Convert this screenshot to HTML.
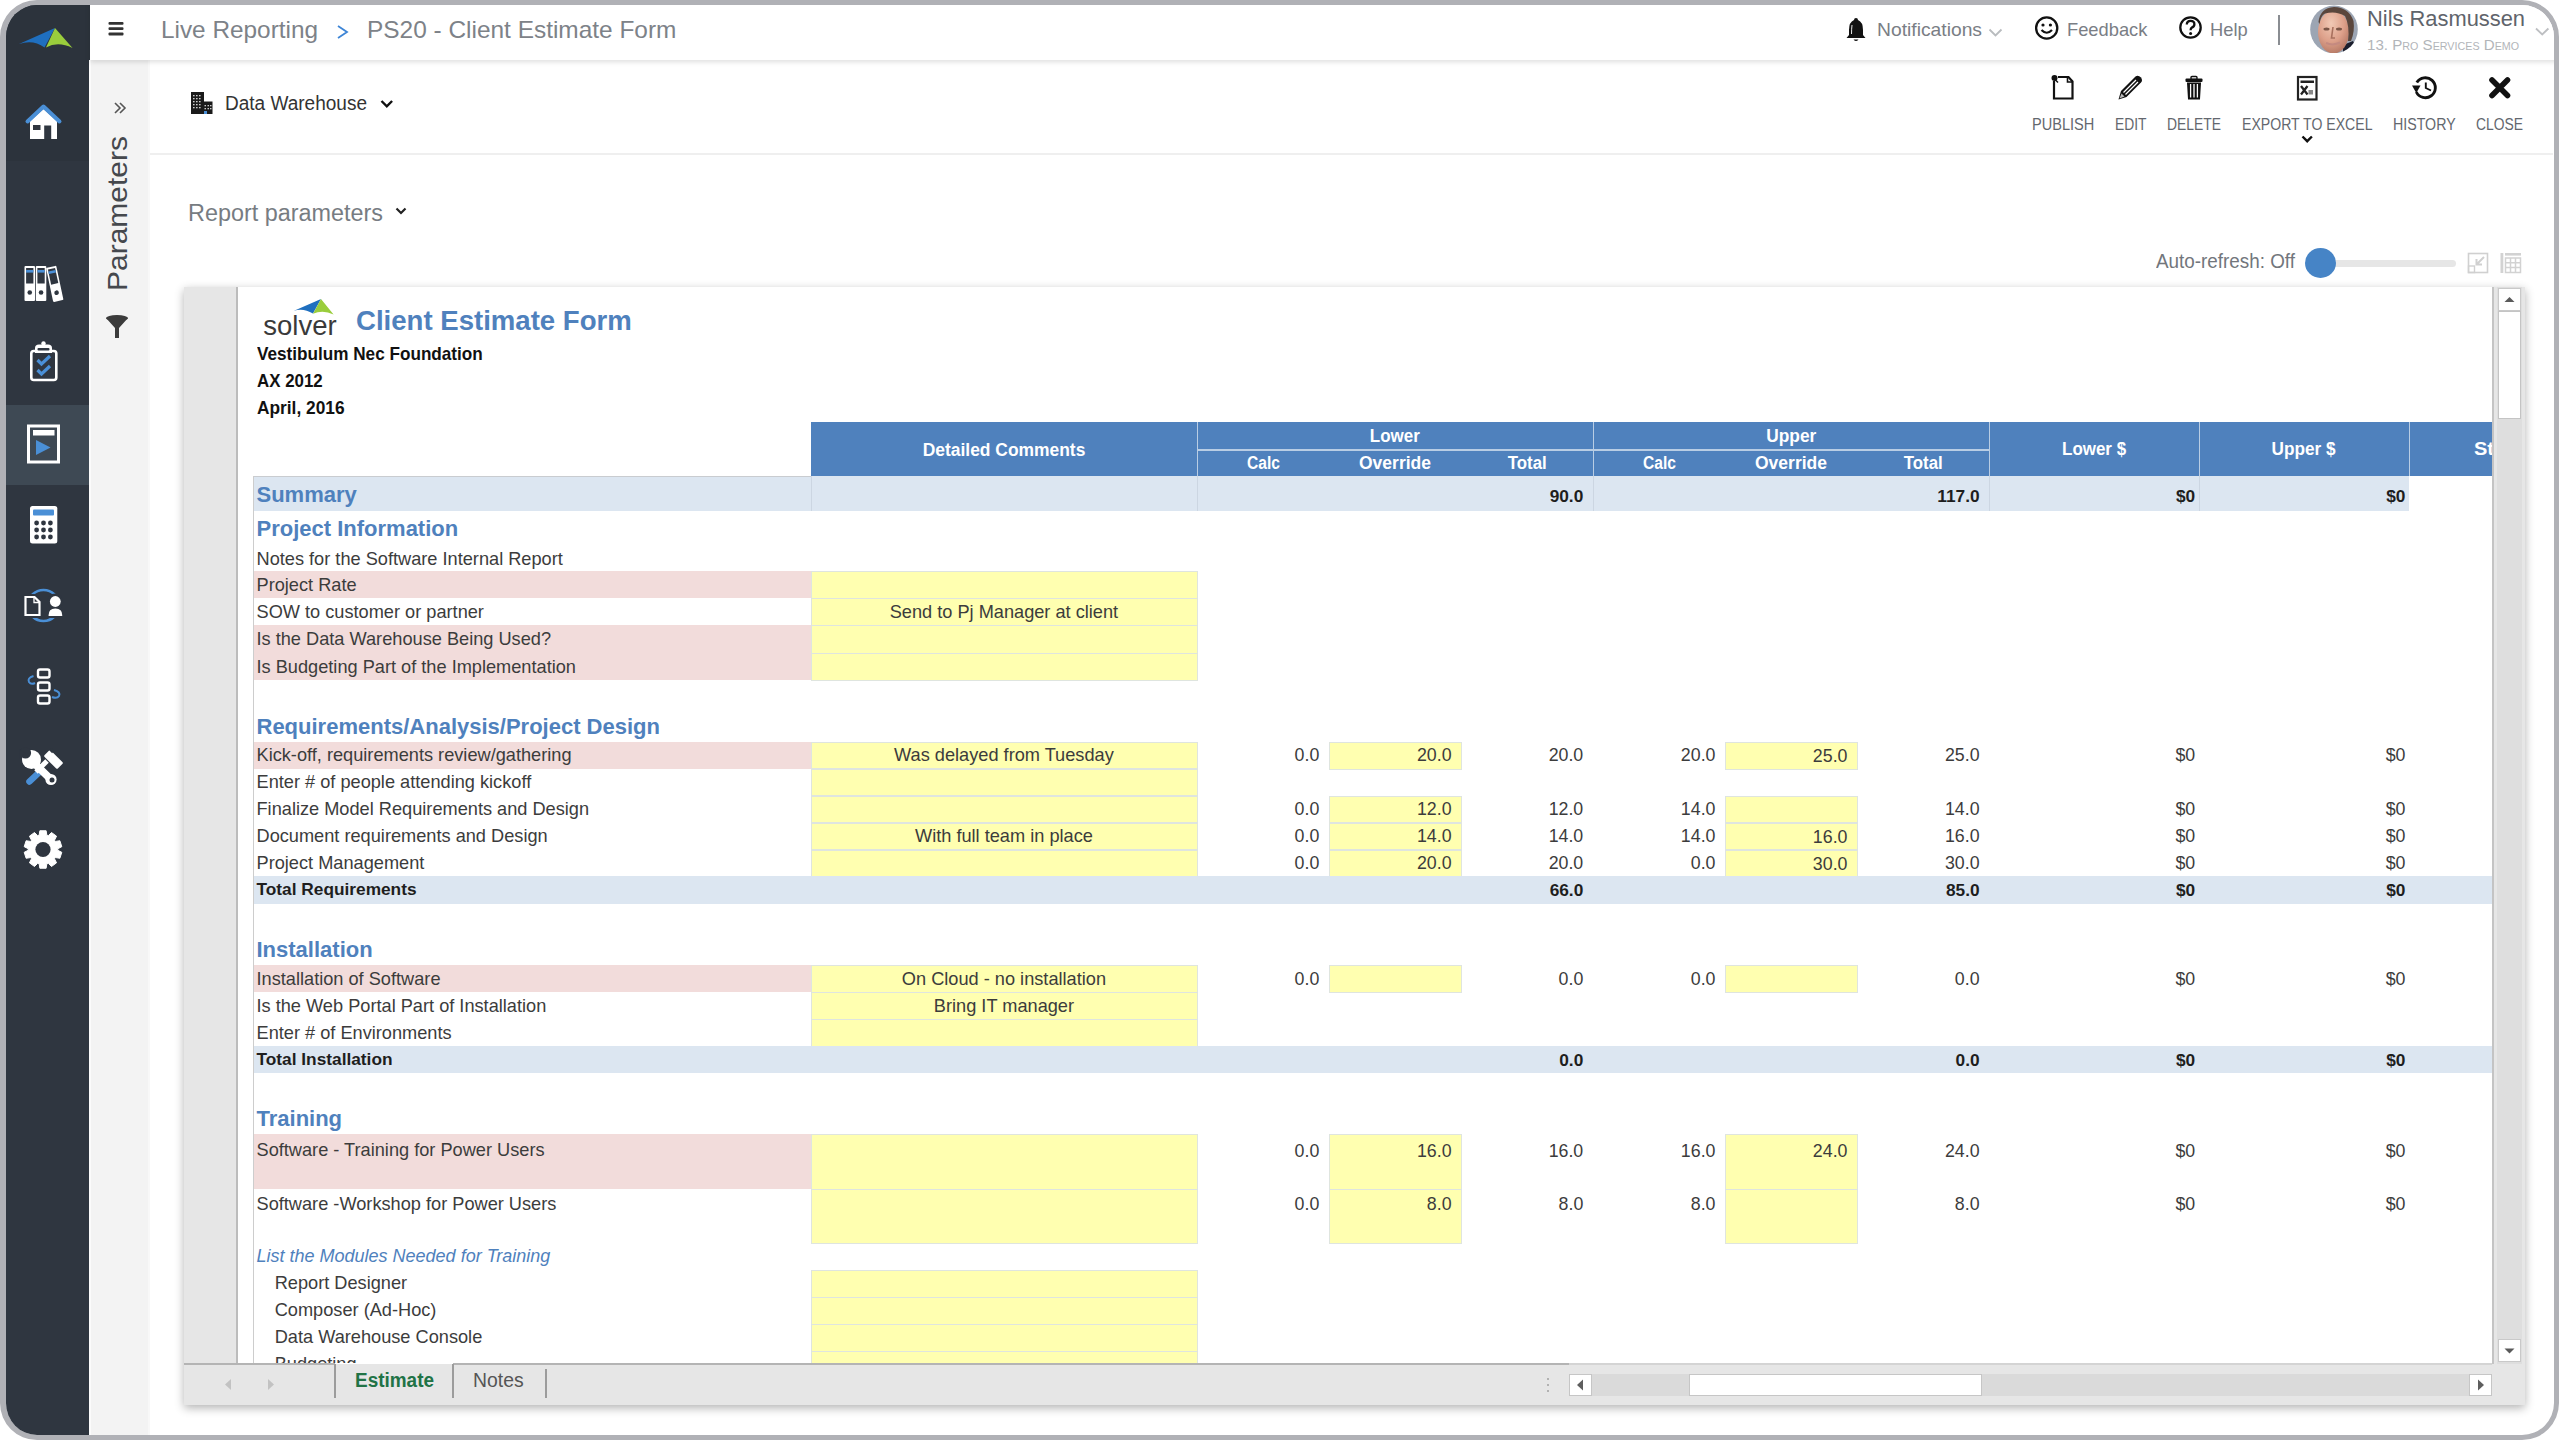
<!DOCTYPE html>
<html><head><meta charset="utf-8"><title>PS20 - Client Estimate Form</title>
<style>
html,body{margin:0;padding:0;background:#fff;width:2560px;height:1441px;overflow:hidden;}
body{font-family:"Liberation Sans",sans-serif;}
#frame{position:absolute;left:0;top:0;width:2559px;height:1440px;box-sizing:border-box;
 border-style:solid;border-color:#b0b1b6;border-width:5px 5px 5px 6px;border-radius:37px;overflow:hidden;background:#fff;}
#pg{position:absolute;left:-6px;top:-5px;width:2560px;height:1441px;}
.t{position:absolute;white-space:nowrap;}
.r{position:absolute;display:block;}
</style></head><body>
<div id="frame"><div id="pg">
<div class="r" style="left:0px;top:0px;width:90px;height:1441px;background:#2f3640;"></div>
<div class="r" style="left:0px;top:0px;width:90px;height:161px;background:#2c333c;"></div>
<div class="r" style="left:0px;top:405px;width:90px;height:80px;background:#3e4954;"></div>
<div class="r" style="left:89px;top:60px;width:2px;height:1381px;background:#fbfbfb;"></div>
<svg class="r" style="left:0px;top:0px" width="90" height="60" viewBox="0 0 90 60"><path d="M19 44 Q33 39 44.5 47.5 L55 28 Z" fill="#1f6fbf"/><path d="M55 28 L72.5 48 Q58 41 46 47.5 Z" fill="#9acd3c"/></svg>
<svg class="r" style="left:0px;top:95px" width="90" height="50" viewBox="0 0 90 50"><path d="M43.5 14 L30 26 L30 44 L57 44 L57 26 Z" fill="#fff"/><path d="M27.5 26.5 L43.5 11.5 L59.5 26.5" fill="none" stroke="#4a8fd6" stroke-width="4" stroke-linejoin="round" stroke-linecap="round"/><rect x="33" y="30" width="7.5" height="5" fill="#2f3640"/><rect x="44.2" y="30.5" width="7" height="13.5" fill="#2f3640"/></svg>
<svg class="r" style="left:0px;top:260px" width="90" height="45" viewBox="0 0 90 45"><rect x="24.5" y="6" width="10.5" height="35" rx="1" fill="#fff"/><rect x="26.1" y="8" width="7.3" height="15.5" fill="#2f3640"/><rect x="26.1" y="10" width="7.3" height="2.6" fill="#4a8fd6"/><circle cx="29.75" cy="32.5" r="2.3" fill="#2f3640"/><rect x="35.8" y="6" width="10.5" height="35" rx="1" fill="#fff"/><rect x="37.4" y="8" width="7.3" height="15.5" fill="#2f3640"/><rect x="37.4" y="10" width="7.3" height="2.6" fill="#4a8fd6"/><circle cx="41.05" cy="32.5" r="2.3" fill="#2f3640"/><g transform="rotate(-12 58.3 40.5)"><rect x="53" y="6" width="10.5" height="35" rx="1" fill="#fff"/><rect x="54.6" y="8" width="7.3" height="15.5" fill="#2f3640"/><rect x="54.6" y="10" width="7.3" height="2.6" fill="#4a8fd6"/><circle cx="58.25" cy="32.5" r="2.3" fill="#2f3640"/></g></svg>
<svg class="r" style="left:0px;top:338px" width="90" height="50" viewBox="0 0 90 50"><rect x="31.3" y="13" width="25" height="29" rx="2.5" fill="none" stroke="#fff" stroke-width="2.6"/><path d="M35 15 L35 10 Q35 6.5 39 6.5 L48 6.5 Q52 6.5 52 10 L52 15 Z" fill="#fff"/><rect x="37.5" y="10" width="12" height="2.5" rx="1" fill="#2f3640"/><circle cx="43.5" cy="5.5" r="2.2" fill="#fff"/><path d="M37.5 22 L41.5 26 L50 18" fill="none" stroke="#4a8fd6" stroke-width="3.2"/><path d="M37.5 32 L41.5 36 L50 28" fill="none" stroke="#4a8fd6" stroke-width="3.2"/></svg>
<svg class="r" style="left:0px;top:420px" width="90" height="50" viewBox="0 0 90 50"><rect x="28.5" y="6" width="30" height="36" fill="none" stroke="#fff" stroke-width="3"/><rect x="33" y="10" width="21.5" height="5.5" fill="#fff"/><path d="M36 20 L50.5 27.5 L36 35 Z" fill="#4a8fd6"/></svg>
<svg class="r" style="left:0px;top:500px" width="90" height="50" viewBox="0 0 90 50"><rect x="30" y="6" width="27.3" height="37.5" rx="2.5" fill="#fff"/><rect x="33" y="9.4" width="21" height="6.2" rx="1" fill="#4a8fd6"/><circle cx="36.6" cy="23" r="2.4" fill="#2f3640"/><circle cx="36.6" cy="30" r="2.4" fill="#2f3640"/><circle cx="36.6" cy="37" r="2.4" fill="#2f3640"/><circle cx="43.5" cy="23" r="2.4" fill="#2f3640"/><circle cx="43.5" cy="30" r="2.4" fill="#2f3640"/><circle cx="43.5" cy="37" r="2.4" fill="#2f3640"/><circle cx="50.4" cy="23" r="2.4" fill="#2f3640"/><circle cx="50.4" cy="30" r="2.4" fill="#2f3640"/><circle cx="50.4" cy="37" r="2.4" fill="#2f3640"/></svg>
<svg class="r" style="left:0px;top:585px" width="90" height="40" viewBox="0 0 90 40"><circle cx="43.5" cy="20.5" r="15.5" fill="none" stroke="#4a8fd6" stroke-width="2.6"/><path d="M25.5 12 L34.5 12 L39.5 17 L39.5 30 L25.5 30 Z" fill="#2f3640" stroke="#2f3640" stroke-width="6"/><path d="M25.5 12 L34.5 12 L39.5 17 L39.5 30 L25.5 30 Z" fill="#2f3640" stroke="#fff" stroke-width="2.2"/><path d="M34 12.5 L34 17.5 L39 17.5" fill="none" stroke="#fff" stroke-width="1.3"/><circle cx="55.3" cy="16.5" r="8" fill="#2f3640"/><rect x="45" y="23" width="20" height="10" fill="#2f3640"/><circle cx="55.3" cy="16.5" r="5.4" fill="#fff"/><path d="M48.5 30.5 Q48.5 23.5 55.3 23.5 Q62.3 23.5 62.3 30.5 Q62.3 31 61 31 L49.8 31 Q48.5 31 48.5 30.5 Z" fill="#fff"/></svg>
<svg class="r" style="left:0px;top:662px" width="90" height="50" viewBox="0 0 90 50"><rect x="38" y="7.5" width="11.5" height="8" rx="2" fill="none" stroke="#fff" stroke-width="2.4"/><rect x="38" y="20.5" width="11.5" height="8" rx="2" fill="none" stroke="#fff" stroke-width="2.4"/><rect x="38" y="33.5" width="11.5" height="8" rx="2" fill="none" stroke="#fff" stroke-width="2.4"/><path d="M33.5 14 Q27 16 29 20 Q31 23 35 21" fill="none" stroke="#4a8fd6" stroke-width="2"/><path d="M54 28 Q61 30 59 34 Q57 37 52 35" fill="none" stroke="#4a8fd6" stroke-width="2"/></svg>
<svg class="r" style="left:0px;top:745px" width="90" height="45" viewBox="0 0 90 45"><path d="M29.5 36.5 L38.5 28" stroke="#4a8fd6" stroke-width="6.5" stroke-linecap="round"/><path d="M36 27 L47 16" stroke="#fff" stroke-width="5"/><g transform="rotate(45 53.5 14.5)"><rect x="44" y="10" width="19" height="9" rx="1.5" fill="#fff"/><rect x="44" y="8" width="4" height="3" fill="#2f3640"/></g><path d="M33 17 L50.5 34" stroke="#fff" stroke-width="7.5" stroke-linecap="round"/><circle cx="31.5" cy="14.5" r="9.5" fill="#fff"/><circle cx="25.5" cy="8" r="5.6" fill="#2f3640"/><path d="M25.5 8 L20 14 L19 4 Z" fill="#2f3640"/><circle cx="51" cy="34.5" r="5.6" fill="#fff"/><circle cx="52" cy="35" r="2.5" fill="#2f3640"/></svg>
<svg class="r" style="left:0px;top:825px" width="90" height="50" viewBox="0 0 90 50"><path d="M39.17 10.20 L39.86 5.76 L46.14 5.76 L46.83 10.20 L48.30 10.68 L51.48 7.50 L56.55 11.18 L54.50 15.19 L55.41 16.44 L59.85 15.73 L61.79 21.69 L57.78 23.73 L57.78 25.27 L61.79 27.31 L59.85 33.27 L55.41 32.56 L54.50 33.81 L56.55 37.82 L51.48 41.50 L48.30 38.32 L46.83 38.80 L46.14 43.24 L39.86 43.24 L39.17 38.80 L37.70 38.32 L34.52 41.50 L29.45 37.82 L31.50 33.81 L30.59 32.56 L26.15 33.27 L24.21 27.31 L28.22 25.27 L28.22 23.73 L24.21 21.69 L26.15 15.73 L30.59 16.44 L31.50 15.19 L29.45 11.18 L34.52 7.50 L37.70 10.68 Z" fill="#fff" stroke="#fff" stroke-width="1" stroke-linejoin="round"/><circle cx="43" cy="24.5" r="7.6" fill="#2f3640"/></svg>
<div class="r" style="left:91px;top:60px;width:59px;height:1381px;background:#f3f3f3;"></div>
<div class="r" style="left:148px;top:60px;width:2px;height:1381px;background:#f8f8f8;"></div>
<div class="t" style="left:104.30px;top:291px;font-size:28px;line-height:28px;color:#45484d;transform-origin:0 0;transform:rotate(-90deg) scaleX(1.0710);">Parameters</div>
<svg class="r" style="left:105px;top:101px" width="30" height="20" viewBox="0 0 30 20"><path d="M10 2 L15 7 L10 12 M15 2 L20 7 L15 12" fill="none" stroke="#555" stroke-width="1.6"/></svg>
<svg class="r" style="left:100px;top:310px" width="34" height="34" viewBox="0 0 34 34"><ellipse cx="17" cy="8" rx="11" ry="3" fill="#3b3b3b"/><path d="M6 8 L15 18 L15 28 L19 28 L19 18 L28 8 Z" fill="#3b3b3b"/></svg>
<div class="r" style="left:90px;top:0px;width:2470px;height:60px;background:#fff;box-shadow:0 2px 5px rgba(0,0,0,0.13);z-index:2;"></div>
<div class="r" style="left:0;top:0;width:2560px;height:60px;z-index:3;">
<svg class="r" style="left:100px;top:15px" width="30" height="26" viewBox="0 0 30 26"><rect x="8.5" y="7" width="15" height="2.8" rx="1" fill="#333"/><rect x="8.5" y="12.2" width="15" height="2.8" rx="1" fill="#333"/><rect x="8.5" y="17.6" width="15" height="2.8" rx="1" fill="#333"/></svg>
<div class="t" style="left:160.50px;top:18.38px;font-size:24px;line-height:24px;color:#7d8288;transform:scaleX(1.0145);transform-origin:left 50%;">Live Reporting</div>
<svg class="r" style="left:330px;top:20px" width="24" height="24" viewBox="0 0 24 24"><path d="M8 6 L17 12 L8 18" fill="none" stroke="#3d85d6" stroke-width="1.8"/></svg>
<div class="t" style="left:367.00px;top:18.38px;font-size:24px;line-height:24px;color:#7d8288;transform:scaleX(1.0174);transform-origin:left 50%;">PS20 - Client Estimate Form</div>
<svg class="r" style="left:1843px;top:14px" width="26" height="28" viewBox="0 0 26 28"><path d="M13 4 Q11 4 11 6 Q6 8 6 16 L6 21 L3.5 24 L22.5 24 L20 21 L20 16 Q20 8 15 6 Q15 4 13 4 Z" fill="#111"/><path d="M10.5 25.5 Q13 28.5 15.5 25.5 Z" fill="#111"/><path d="M9 11 Q8.5 15 8.5 20" stroke="#fff" stroke-width="0.9" fill="none"/></svg>
<div class="t" style="left:1876.50px;top:19.72px;font-size:19px;line-height:19px;color:#7a7e85;transform:scaleX(1.0146);transform-origin:left 50%;">Notifications</div>
<svg class="r" style="left:1986px;top:26px" width="20" height="14" viewBox="0 0 20 14"><path d="M3.5 3.5 L9.5 9.5 L15.5 3.5" fill="none" stroke="#b9bcbf" stroke-width="1.8"/></svg>
<svg class="r" style="left:2033px;top:14px" width="28" height="28" viewBox="0 0 28 28"><circle cx="13.7" cy="14" r="10.6" fill="none" stroke="#111" stroke-width="2.3"/><circle cx="10" cy="11" r="1.6" fill="#111"/><circle cx="17.4" cy="11" r="1.6" fill="#111"/><path d="M8.5 16 Q13.7 21.5 19 16" fill="none" stroke="#111" stroke-width="2.2"/></svg>
<div class="t" style="left:2067.00px;top:19.72px;font-size:19px;line-height:19px;color:#7a7e85;transform:scaleX(0.9635);transform-origin:left 50%;">Feedback</div>
<svg class="r" style="left:2177px;top:14px" width="28" height="28" viewBox="0 0 28 28"><circle cx="13.5" cy="13.5" r="10.2" fill="none" stroke="#111" stroke-width="2.3"/><path d="M9.8 10.5 Q9.8 6.8 13.6 6.8 Q17.4 6.8 17.4 10.2 Q17.4 12.5 14.8 13.6 Q13.6 14.2 13.6 16.3" fill="none" stroke="#111" stroke-width="2.3"/><circle cx="13.6" cy="19.6" r="1.5" fill="#111"/></svg>
<div class="t" style="left:2210.00px;top:19.72px;font-size:19px;line-height:19px;color:#7a7e85;transform:scaleX(0.9647);transform-origin:left 50%;">Help</div>
<div class="r" style="left:2278px;top:15px;width:2px;height:30px;background:#8a8d92;"></div>
<svg class="r" style="left:2309px;top:5px" width="50" height="48" viewBox="0 0 50 48"><defs><clipPath id="av"><circle cx="25" cy="24.4" r="23.8"/></clipPath><radialGradient id="fg" cx="0.42" cy="0.3" r="0.7"><stop offset="0" stop-color="#f1c9b5"/><stop offset="0.6" stop-color="#dda08a"/><stop offset="1" stop-color="#b97c68"/></radialGradient></defs><g clip-path="url(#av)"><rect x="0" y="0" width="50" height="48" fill="#9ca5b3"/><path d="M34 40 L44 36 L50 48 L34 48 Z" fill="#1b1e2c"/><ellipse cx="24.5" cy="27" rx="15.5" ry="21.5" fill="url(#fg)"/><path d="M9.5 17 Q11 3 25 2 Q40 2.5 44.5 16 Q46 26 42 36 L39 36 Q41 21 36 11 Q27 5.5 16 8.5 Q11.5 11 10.5 19 Z" fill="#5a463c"/><ellipse cx="17.5" cy="24" rx="3" ry="1.5" fill="#7a5546"/><ellipse cx="30" cy="24" rx="3" ry="1.5" fill="#7a5546"/><path d="M24 22 L22.5 33 L26 33" fill="none" stroke="#a8705e" stroke-width="1.6"/><path d="M17 38 Q24 41 31 37.5" fill="none" stroke="#c48a80" stroke-width="2"/></g></svg>
<div class="t" style="left:2366.60px;top:8.38px;font-size:22px;line-height:22px;color:#60646b;transform:scaleX(0.9941);transform-origin:left 50%;">Nils Rasmussen</div>
<div class="t" style="left:2366.5px;top:35.5px;font-size:15.5px;line-height:17px;color:#b2b5b9;font-variant:small-caps;transform:scaleX(0.975);transform-origin:left 50%;">13. Pro Services Demo</div>
<svg class="r" style="left:2530px;top:24px" width="22" height="16" viewBox="0 0 22 16"><path d="M6 4.5 L12.2 10.5 L18.4 4.5" fill="none" stroke="#bdbfc2" stroke-width="1.8"/></svg>
</div>
<svg class="r" style="left:188px;top:89px" width="28" height="28" viewBox="0 0 28 28"><rect x="3" y="3" width="13" height="22" fill="#1a1a1a"/><rect x="12" y="12.5" width="12.5" height="12.5" fill="#1a1a1a"/><rect x="5" y="6" width="1.6" height="1.3" fill="#ccc"/><rect x="5" y="9" width="1.6" height="1.3" fill="#ccc"/><rect x="5" y="12" width="1.6" height="1.3" fill="#ccc"/><rect x="5" y="15" width="1.6" height="1.3" fill="#ccc"/><rect x="5" y="18" width="1.6" height="1.3" fill="#ccc"/><rect x="8" y="6" width="1.6" height="1.3" fill="#ccc"/><rect x="8" y="9" width="1.6" height="1.3" fill="#ccc"/><rect x="8" y="12" width="1.6" height="1.3" fill="#ccc"/><rect x="8" y="15" width="1.6" height="1.3" fill="#ccc"/><rect x="8" y="18" width="1.6" height="1.3" fill="#ccc"/><rect x="11" y="6" width="1.6" height="1.3" fill="#ccc"/><rect x="11" y="9" width="1.6" height="1.3" fill="#ccc"/><rect x="11" y="12" width="1.6" height="1.3" fill="#ccc"/><rect x="11" y="15" width="1.6" height="1.3" fill="#ccc"/><rect x="11" y="18" width="1.6" height="1.3" fill="#ccc"/><rect x="16.5" y="16" width="1.5" height="1.3" fill="#ccc"/><rect x="16.5" y="19" width="1.5" height="1.3" fill="#ccc"/><rect x="19.5" y="16" width="1.5" height="1.3" fill="#ccc"/><rect x="19.5" y="19" width="1.5" height="1.3" fill="#ccc"/><rect x="22" y="16" width="1.5" height="1.3" fill="#ccc"/><rect x="22" y="19" width="1.5" height="1.3" fill="#ccc"/><rect x="16" y="22" width="3" height="3" fill="#4a8fd6"/></svg>
<div class="t" style="left:225.00px;top:94.09px;font-size:19.5px;line-height:19.5px;color:#333;transform:scaleX(0.9752);transform-origin:left 50%;">Data Warehouse</div>
<svg class="r" style="left:378px;top:97px" width="18" height="14" viewBox="0 0 18 14"><path d="M3.5 4 L8.8 9.3 L14.1 4" fill="none" stroke="#111" stroke-width="2.4"/></svg>
<div class="r" style="left:150px;top:153px;width:2403px;height:2px;background:#efefef;"></div>
<div class="t" style="left:2031.70px;top:116.13px;font-size:16.5px;line-height:16.5px;color:#63676e;transform:scaleX(0.8823);transform-origin:left 50%;">PUBLISH</div>
<div class="t" style="left:2115.00px;top:116.13px;font-size:16.5px;line-height:16.5px;color:#63676e;transform:scaleX(0.8381);transform-origin:left 50%;">EDIT</div>
<div class="t" style="left:2167.00px;top:116.13px;font-size:16.5px;line-height:16.5px;color:#63676e;transform:scaleX(0.8413);transform-origin:left 50%;">DELETE</div>
<div class="t" style="left:2242.00px;top:116.13px;font-size:16.5px;line-height:16.5px;color:#63676e;transform:scaleX(0.8538);transform-origin:left 50%;">EXPORT TO EXCEL</div>
<div class="t" style="left:2393.00px;top:116.13px;font-size:16.5px;line-height:16.5px;color:#63676e;transform:scaleX(0.8605);transform-origin:left 50%;">HISTORY</div>
<div class="t" style="left:2476.00px;top:116.13px;font-size:16.5px;line-height:16.5px;color:#63676e;transform:scaleX(0.8402);transform-origin:left 50%;">CLOSE</div>
<svg class="r" style="left:2048px;top:72px" width="30" height="30" viewBox="0 0 30 30"><path d="M6 9 L6 26.5 L24.5 26.5 L24.5 9.5 L20.5 5 L10 5" fill="none" stroke="#111" stroke-width="2.2"/><path d="M19.5 5 L19.5 10 L24.5 10" fill="none" stroke="#111" stroke-width="1.6"/><circle cx="6.5" cy="6" r="3" fill="#111"/><path d="M5.5 6 L10 10.5" stroke="#111" stroke-width="1.4"/></svg>
<svg class="r" style="left:2115px;top:73px" width="30" height="30" viewBox="0 0 30 30"><path d="M3.5 26.5 L6 18 L20.5 3.5 Q23 1.5 26 4.5 Q28 7.5 26 9.5 L11.5 24 Z" fill="#111"/><path d="M8.5 19.5 L21 7 M10.5 21.5 L23 9" stroke="#fff" stroke-width="1.3"/><path d="M4.5 25.5 L6.5 20.5 L9.5 23.5 Z" fill="#bbb"/></svg>
<svg class="r" style="left:2182px;top:74px" width="24" height="28" viewBox="0 0 24 28"><rect x="3.5" y="4.5" width="17" height="3.4" rx="1" fill="#111"/><rect x="9" y="2.5" width="6" height="3" rx="1" fill="none" stroke="#111" stroke-width="1.4"/><path d="M5 8.5 L6 25.5 L18 25.5 L19 8.5 Z" fill="#111"/><path d="M8.6 10 L8.6 23.5 M12 10 L12 23.5 M15.4 10 L15.4 23.5" stroke="#fff" stroke-width="1.3"/></svg>
<svg class="r" style="left:2294px;top:73px" width="26" height="30" viewBox="0 0 26 30"><rect x="4" y="4" width="18.5" height="22.5" fill="none" stroke="#222" stroke-width="2.2"/><rect x="6.5" y="7.5" width="13.5" height="2.5" fill="#222"/><path d="M7 13 L13.5 21.5 M13.5 13 L7 21.5" stroke="#222" stroke-width="2.3"/><rect x="14.5" y="17" width="4.5" height="4.5" fill="#888"/></svg>
<svg class="r" style="left:2408px;top:73px" width="32" height="30" viewBox="0 0 32 30"><path d="M8.3 19 A10 10 0 1 0 8.8 9.5" fill="none" stroke="#111" stroke-width="2.9"/><path d="M4 12.5 L12.5 12.5 L8.3 20 Z" fill="#111"/><path d="M17.8 9.5 L17.8 15 L23 17.5" fill="none" stroke="#111" stroke-width="1.9"/></svg>
<svg class="r" style="left:2486px;top:74px" width="28" height="28" viewBox="0 0 28 28"><path d="M6 6 L21.5 21.5 M21.5 6 L6 21.5" stroke="#111" stroke-width="5.6" stroke-linecap="round"/></svg>
<svg class="r" style="left:2299px;top:133px" width="18" height="14" viewBox="0 0 18 14"><path d="M3.5 3.5 L8.2 8.2 L12.9 3.5" fill="none" stroke="#111" stroke-width="2.4"/></svg>
<div class="t" style="left:187.50px;top:201.53px;font-size:23px;line-height:23px;color:#777c82;transform:scaleX(1.0169);transform-origin:left 50%;">Report parameters</div>
<svg class="r" style="left:393px;top:204px" width="16" height="14" viewBox="0 0 16 14"><path d="M3.5 4.5 L8 9 L12.5 4.5" fill="none" stroke="#222" stroke-width="2.2"/></svg>
<div class="t" style="left:2156.40px;top:252.49px;font-size:19.5px;line-height:19.5px;color:#72767c;transform:scaleX(0.9667);transform-origin:left 50%;">Auto-refresh: Off</div>
<div class="r" style="left:2320px;top:260px;width:136px;height:7px;background:#e6e6e6;border-radius:3.5px;"></div>
<div class="r" style="left:2305px;top:248px;width:31px;height:30px;background:#4684c6;border-radius:50%;"></div>
<svg class="r" style="left:2464px;top:250px" width="28" height="26" viewBox="0 0 28 26"><rect x="4.5" y="3.5" width="19" height="19" fill="none" stroke="#d0d0d0" stroke-width="1.6"/><rect x="4.5" y="16" width="6" height="6.5" fill="none" stroke="#d0d0d0" stroke-width="1.4"/><path d="M20 7 L12.5 14.5 M12.5 9 L12.5 14.5 L18 14.5" fill="none" stroke="#d0d0d0" stroke-width="2"/></svg>
<svg class="r" style="left:2496px;top:249px" width="30" height="28" viewBox="0 0 30 28"><rect x="4.5" y="4" width="2.8" height="20" fill="#d2d2d2"/><rect x="9" y="4" width="16" height="2.6" fill="#d2d2d2"/><path d="M9.5 9 L24.5 9 L24.5 23.5 L9.5 23.5 Z M9.5 13.8 L24.5 13.8 M9.5 18.6 L24.5 18.6 M14.5 9 L14.5 23.5 M19.5 9 L19.5 23.5" fill="none" stroke="#d2d2d2" stroke-width="1.5"/></svg>
<div class="r" style="left:184px;top:287px;width:2341px;height:1118px;background:#e6e6e6;box-shadow:0 3px 9px rgba(0,0,0,0.30);"></div>
<div class="r" style="left:236px;top:287px;width:2px;height:1077px;background:#bcbcbc;"></div>
<div class="r" style="left:238px;top:287px;width:2254px;height:1077px;background:#fff;"></div>
<div class="r" style="left:2492px;top:287px;width:2px;height:1077px;background:#c4c4c4;"></div>
<div class="r" style="left:2497px;top:287px;width:25px;height:1077px;background:#dedede;"></div>
<div class="r" style="left:2498px;top:288px;width:23px;height:23px;background:#fff;box-sizing:border-box;border:1px solid #c9c9c9;"></div>
<svg class="r" style="left:2498px;top:288px" width="23" height="23" viewBox="0 0 23 23"><path d="M6.5 14 L11.5 9 L16.5 14 Z" fill="#5a5a5a"/></svg>
<div class="r" style="left:2498px;top:311px;width:23px;height:108px;background:#fff;box-sizing:border-box;border:1px solid #c4c4c4;"></div>
<div class="r" style="left:2498px;top:1339px;width:23px;height:23px;background:#fff;box-sizing:border-box;border:1px solid #c9c9c9;"></div>
<svg class="r" style="left:2498px;top:1339px" width="23" height="23" viewBox="0 0 23 23"><path d="M6.5 9.5 L11.5 14.5 L16.5 9.5 Z" fill="#5a5a5a"/></svg>
<div class="r" style="left:184px;top:1364px;width:2341px;height:41px;background:#e6e6e6;"></div>
<div class="r" style="left:184px;top:1363px;width:151px;height:2px;background:#b4b4b4;"></div>
<div class="r" style="left:453px;top:1363px;width:1116px;height:2px;background:#b4b4b4;"></div>
<div class="r" style="left:1569px;top:1363px;width:923px;height:2px;background:#d4d4d4;"></div>
<svg class="r" style="left:218px;top:1374px" width="62" height="22" viewBox="0 0 62 22"><path d="M13 5 L7 10.5 L13 16 Z" fill="#c2c2c2"/><path d="M50 5 L56 10.5 L50 16 Z" fill="#c2c2c2"/></svg>
<div class="r" style="left:334px;top:1364px;width:2px;height:34px;background:#9c9c9c;"></div>
<div class="r" style="left:452px;top:1364px;width:2px;height:34px;background:#9c9c9c;"></div>
<div class="r" style="left:545px;top:1369px;width:2px;height:29px;background:#9c9c9c;"></div>
<div class="t" style="left:355.30px;top:1370.37px;font-size:20px;line-height:20px;color:#217346;font-weight:bold;transform:scaleX(0.9476);transform-origin:left 50%;">Estimate</div>
<div class="t" style="left:473.40px;top:1370.37px;font-size:20px;line-height:20px;color:#555;transform:scaleX(0.9685);transform-origin:left 50%;">Notes</div>
<div class="r" style="left:1546.5px;top:1377.7px;width:2.7000000000000455px;height:2.599999999999909px;background:#a0a0a0;border-radius:50%;"></div>
<div class="r" style="left:1546.5px;top:1383.7px;width:2.7000000000000455px;height:2.599999999999909px;background:#a0a0a0;border-radius:50%;"></div>
<div class="r" style="left:1546.5px;top:1389.7px;width:2.7000000000000455px;height:2.599999999999909px;background:#a0a0a0;border-radius:50%;"></div>
<div class="r" style="left:1569px;top:1374px;width:923px;height:22px;background:#dadada;"></div>
<div class="r" style="left:1569px;top:1374px;width:23px;height:22px;background:#fff;box-sizing:border-box;border:1px solid #c6c6c6;"></div>
<svg class="r" style="left:1569px;top:1374px" width="23" height="22" viewBox="0 0 23 22"><path d="M14 5.5 L8 11 L14 16.5 Z" fill="#5e5e5e"/></svg>
<div class="r" style="left:1689px;top:1374px;width:293px;height:22px;background:#fff;box-sizing:border-box;border:1px solid #c6c6c6;"></div>
<div class="r" style="left:2469px;top:1374px;width:23px;height:22px;background:#fff;box-sizing:border-box;border:1px solid #c6c6c6;"></div>
<svg class="r" style="left:2469px;top:1374px" width="23" height="22" viewBox="0 0 23 22"><path d="M9 5.5 L15 11 L9 16.5 Z" fill="#5e5e5e"/></svg>
<div class="r" style="left:238px;top:287px;width:2254px;height:1076px;overflow:hidden;"><div class="r" style="left:-238px;top:-287px;width:2560px;height:1441px;">
<svg class="r" style="left:290px;top:296px" width="48" height="20" viewBox="0 0 48 20"><path d="M3.5 15 Q13 11.5 23 17.5 L31 3 Z" fill="#1f6fbf"/><path d="M31 3 L43.6 18.5 Q33 13.5 23 17.8 Z" fill="#9acd3c"/></svg>
<div class="t" style="left:263.30px;top:312.02px;font-size:27.5px;line-height:27.5px;color:#3a3a3a;">solver</div>
<div class="t" style="left:355.50px;top:305.67px;font-size:28.5px;line-height:28.5px;color:#4f81bd;font-weight:bold;transform:scaleX(0.9675);transform-origin:left 50%;">Client Estimate Form</div>
<div class="t" style="left:257.00px;top:345.44px;font-size:18.5px;line-height:18.5px;color:#111;font-weight:bold;transform:scaleX(0.9269);transform-origin:left 50%;">Vestibulum Nec Foundation</div>
<div class="t" style="left:257.00px;top:372.04px;font-size:18.5px;line-height:18.5px;color:#111;font-weight:bold;transform:scaleX(0.9125);transform-origin:left 50%;">AX 2012</div>
<div class="t" style="left:257.00px;top:398.54px;font-size:18.5px;line-height:18.5px;color:#111;font-weight:bold;transform:scaleX(0.9351);transform-origin:left 50%;">April, 2016</div>
<div class="r" style="left:811px;top:422px;width:1681px;height:54px;background:#4f81bd;"></div>
<div class="r" style="left:1196.5px;top:422px;width:1.5px;height:54px;background:#b9cde4;"></div>
<div class="r" style="left:1592.5px;top:422px;width:1.5px;height:54px;background:#b9cde4;"></div>
<div class="r" style="left:1988.5px;top:422px;width:1.5px;height:54px;background:#b9cde4;"></div>
<div class="r" style="left:2198.5px;top:422px;width:1.5px;height:54px;background:#b9cde4;"></div>
<div class="r" style="left:2408.5px;top:422px;width:1.5px;height:54px;background:#b9cde4;"></div>
<div class="r" style="left:1197px;top:449px;width:792px;height:1.5px;background:#b9cde4;"></div>
<div class="r" style="left:253px;top:475.5px;width:558px;height:1.0px;background:#cfcfcf;"></div>
<div class="t" style="left:920.48px;top:440.86px;font-size:18px;line-height:18px;color:#ffffff;font-weight:bold;transform:scaleX(0.9676);transform-origin:center 50%;">Detailed Comments</div>
<div class="t" style="left:1369.23px;top:427.69px;font-size:17.5px;line-height:17.5px;color:#ffffff;font-weight:bold;transform:scaleX(0.9702);transform-origin:center 50%;">Lower</div>
<div class="t" style="left:1765.72px;top:427.69px;font-size:17.5px;line-height:17.5px;color:#ffffff;font-weight:bold;transform:scaleX(0.9889);transform-origin:center 50%;">Upper</div>
<div class="t" style="left:1244.52px;top:455.19px;font-size:17.5px;line-height:17.5px;color:#ffffff;font-weight:bold;transform:scaleX(0.8927);transform-origin:center 50%;">Calc</div>
<div class="t" style="left:1359.01px;top:455.19px;font-size:17.5px;line-height:17.5px;color:#ffffff;font-weight:bold;">Override</div>
<div class="t" style="left:1506.75px;top:455.19px;font-size:17.5px;line-height:17.5px;color:#ffffff;font-weight:bold;transform:scaleX(0.9629);transform-origin:center 50%;">Total</div>
<div class="t" style="left:1640.52px;top:455.19px;font-size:17.5px;line-height:17.5px;color:#ffffff;font-weight:bold;transform:scaleX(0.8927);transform-origin:center 50%;">Calc</div>
<div class="t" style="left:1755.01px;top:455.19px;font-size:17.5px;line-height:17.5px;color:#ffffff;font-weight:bold;">Override</div>
<div class="t" style="left:1902.75px;top:455.19px;font-size:17.5px;line-height:17.5px;color:#ffffff;font-weight:bold;transform:scaleX(0.9629);transform-origin:center 50%;">Total</div>
<div class="t" style="left:2060.94px;top:441.29px;font-size:17.5px;line-height:17.5px;color:#ffffff;font-weight:bold;transform:scaleX(0.9678);transform-origin:center 50%;">Lower $</div>
<div class="t" style="left:2271.42px;top:441.29px;font-size:17.5px;line-height:17.5px;color:#ffffff;font-weight:bold;transform:scaleX(0.9823);transform-origin:center 50%;">Upper $</div>
<div class="t" style="left:2474.00px;top:441.29px;font-size:17.5px;line-height:17.5px;color:#ffffff;font-weight:bold;transform:scaleX(1.1428);transform-origin:left 50%;">St</div>
<div class="r" style="left:253px;top:476px;width:2156px;height:35px;background:#dce6f1;"></div>
<div class="r" style="left:810.5px;top:476px;width:1.0px;height:35px;background:#ccd6e2;"></div>
<div class="r" style="left:1196.5px;top:476px;width:1.0px;height:35px;background:#ccd6e2;"></div>
<div class="r" style="left:1592.5px;top:476px;width:1.0px;height:35px;background:#ccd6e2;"></div>
<div class="r" style="left:1988.5px;top:476px;width:1.0px;height:35px;background:#ccd6e2;"></div>
<div class="r" style="left:2198.5px;top:476px;width:1.0px;height:35px;background:#ccd6e2;"></div>
<div class="r" style="left:253px;top:475.5px;width:558px;height:1.5px;background:#c9ccd0;"></div>
<div class="t" style="left:256.50px;top:483.88px;font-size:22px;line-height:22px;color:#4f81bd;font-weight:bold;">Summary</div>
<div class="t" style="left:1549.63px;top:488.36px;font-size:17.3px;line-height:17.3px;color:#1e1e1e;font-weight:bold;">90.0</div>
<div class="t" style="left:1937.26px;top:488.36px;font-size:17.3px;line-height:17.3px;color:#1e1e1e;font-weight:bold;">117.0</div>
<div class="t" style="left:2175.96px;top:488.36px;font-size:17.3px;line-height:17.3px;color:#1e1e1e;font-weight:bold;">$0</div>
<div class="t" style="left:2386.26px;top:488.36px;font-size:17.3px;line-height:17.3px;color:#1e1e1e;font-weight:bold;">$0</div>
<div class="t" style="left:256.50px;top:518.28px;font-size:22px;line-height:22px;color:#4f81bd;font-weight:bold;">Project Information</div>
<div class="t" style="left:256.50px;top:549.59px;font-size:18.2px;line-height:18.2px;color:#3c3c3c;">Notes for the Software Internal Report</div>
<div class="r" style="left:253px;top:571px;width:558px;height:27px;background:#f2dcdb;"></div>
<div class="r" style="left:253px;top:625px;width:558px;height:28px;background:#f2dcdb;"></div>
<div class="r" style="left:253px;top:653px;width:558px;height:27px;background:#f2dcdb;"></div>
<div class="r" style="left:811px;top:571px;width:387px;height:28px;background:#ffffb0;box-sizing:border-box;border:1px solid #dfe5df;"></div>
<div class="r" style="left:811px;top:598px;width:387px;height:28px;background:#ffffb0;box-sizing:border-box;border:1px solid #dfe5df;"></div>
<div class="r" style="left:811px;top:625px;width:387px;height:29px;background:#ffffb0;box-sizing:border-box;border:1px solid #dfe5df;"></div>
<div class="r" style="left:811px;top:653px;width:387px;height:28px;background:#ffffb0;box-sizing:border-box;border:1px solid #dfe5df;"></div>
<div class="t" style="left:256.50px;top:575.59px;font-size:18.2px;line-height:18.2px;color:#3c3c3c;">Project Rate</div>
<div class="t" style="left:256.50px;top:602.59px;font-size:18.2px;line-height:18.2px;color:#3c3c3c;">SOW to customer or partner</div>
<div class="t" style="left:889.67px;top:602.59px;font-size:18.2px;line-height:18.2px;color:#3c3c3c;">Send to Pj Manager at client</div>
<div class="t" style="left:256.50px;top:629.59px;font-size:18.2px;line-height:18.2px;color:#3c3c3c;">Is the Data Warehouse Being Used?</div>
<div class="t" style="left:256.50px;top:657.59px;font-size:18.2px;line-height:18.2px;color:#3c3c3c;">Is Budgeting Part of the Implementation</div>
<div class="t" style="left:256.50px;top:715.58px;font-size:22px;line-height:22px;color:#4f81bd;font-weight:bold;">Requirements/Analysis/Project Design</div>
<div class="r" style="left:253px;top:742px;width:558px;height:27px;background:#f2dcdb;"></div>
<div class="r" style="left:811px;top:742px;width:387px;height:27px;background:#ffffb0;box-sizing:border-box;border:1px solid #dfe5df;"></div>
<div class="r" style="left:811px;top:769px;width:387px;height:27px;background:#ffffb0;box-sizing:border-box;border:1px solid #dfe5df;"></div>
<div class="r" style="left:811px;top:796px;width:387px;height:27px;background:#ffffb0;box-sizing:border-box;border:1px solid #dfe5df;"></div>
<div class="r" style="left:811px;top:823px;width:387px;height:27px;background:#ffffb0;box-sizing:border-box;border:1px solid #dfe5df;"></div>
<div class="r" style="left:811px;top:850px;width:387px;height:27px;background:#ffffb0;box-sizing:border-box;border:1px solid #dfe5df;"></div>
<div class="r" style="left:1329px;top:742px;width:133px;height:28px;background:#ffffb0;box-sizing:border-box;border:1px solid #dfe5df;"></div>
<div class="r" style="left:1725px;top:742px;width:133px;height:28px;background:#ffffb0;box-sizing:border-box;border:1px solid #dfe5df;"></div>
<div class="r" style="left:1329px;top:796px;width:133px;height:27px;background:#ffffb0;box-sizing:border-box;border:1px solid #dfe5df;"></div>
<div class="r" style="left:1725px;top:796px;width:133px;height:27px;background:#ffffb0;box-sizing:border-box;border:1px solid #dfe5df;"></div>
<div class="r" style="left:1329px;top:823px;width:133px;height:27px;background:#ffffb0;box-sizing:border-box;border:1px solid #dfe5df;"></div>
<div class="r" style="left:1725px;top:823px;width:133px;height:27px;background:#ffffb0;box-sizing:border-box;border:1px solid #dfe5df;"></div>
<div class="r" style="left:1329px;top:850px;width:133px;height:27px;background:#ffffb0;box-sizing:border-box;border:1px solid #dfe5df;"></div>
<div class="r" style="left:1725px;top:850px;width:133px;height:27px;background:#ffffb0;box-sizing:border-box;border:1px solid #dfe5df;"></div>
<div class="t" style="left:256.50px;top:745.59px;font-size:18.2px;line-height:18.2px;color:#3c3c3c;">Kick-off, requirements review/gathering</div>
<div class="t" style="left:894.07px;top:745.59px;font-size:18.2px;line-height:18.2px;color:#3c3c3c;">Was delayed from Tuesday</div>
<div class="t" style="left:1294.56px;top:746.93px;font-size:17.8px;line-height:17.8px;color:#3c3c3c;">0.0</div>
<div class="t" style="left:1416.96px;top:746.93px;font-size:17.8px;line-height:17.8px;color:#3c3c3c;">20.0</div>
<div class="t" style="left:1548.66px;top:746.93px;font-size:17.8px;line-height:17.8px;color:#3c3c3c;">20.0</div>
<div class="t" style="left:1680.86px;top:746.93px;font-size:17.8px;line-height:17.8px;color:#3c3c3c;">20.0</div>
<div class="t" style="left:1812.86px;top:748.43px;font-size:17.8px;line-height:17.8px;color:#3c3c3c;">25.0</div>
<div class="t" style="left:1944.96px;top:746.93px;font-size:17.8px;line-height:17.8px;color:#3c3c3c;">25.0</div>
<div class="t" style="left:2175.40px;top:746.93px;font-size:17.8px;line-height:17.8px;color:#3c3c3c;">$0</div>
<div class="t" style="left:2385.70px;top:746.93px;font-size:17.8px;line-height:17.8px;color:#3c3c3c;">$0</div>
<div class="t" style="left:256.50px;top:772.59px;font-size:18.2px;line-height:18.2px;color:#3c3c3c;">Enter # of people attending kickoff</div>
<div class="t" style="left:256.50px;top:799.59px;font-size:18.2px;line-height:18.2px;color:#3c3c3c;">Finalize Model Requirements and Design</div>
<div class="t" style="left:1294.56px;top:800.93px;font-size:17.8px;line-height:17.8px;color:#3c3c3c;">0.0</div>
<div class="t" style="left:1416.96px;top:800.93px;font-size:17.8px;line-height:17.8px;color:#3c3c3c;">12.0</div>
<div class="t" style="left:1548.66px;top:800.93px;font-size:17.8px;line-height:17.8px;color:#3c3c3c;">12.0</div>
<div class="t" style="left:1680.86px;top:800.93px;font-size:17.8px;line-height:17.8px;color:#3c3c3c;">14.0</div>
<div class="t" style="left:1944.96px;top:800.93px;font-size:17.8px;line-height:17.8px;color:#3c3c3c;">14.0</div>
<div class="t" style="left:2175.40px;top:800.93px;font-size:17.8px;line-height:17.8px;color:#3c3c3c;">$0</div>
<div class="t" style="left:2385.70px;top:800.93px;font-size:17.8px;line-height:17.8px;color:#3c3c3c;">$0</div>
<div class="t" style="left:256.50px;top:826.59px;font-size:18.2px;line-height:18.2px;color:#3c3c3c;">Document requirements and Design</div>
<div class="t" style="left:914.98px;top:826.59px;font-size:18.2px;line-height:18.2px;color:#3c3c3c;">With full team in place</div>
<div class="t" style="left:1294.56px;top:827.93px;font-size:17.8px;line-height:17.8px;color:#3c3c3c;">0.0</div>
<div class="t" style="left:1416.96px;top:827.93px;font-size:17.8px;line-height:17.8px;color:#3c3c3c;">14.0</div>
<div class="t" style="left:1548.66px;top:827.93px;font-size:17.8px;line-height:17.8px;color:#3c3c3c;">14.0</div>
<div class="t" style="left:1680.86px;top:827.93px;font-size:17.8px;line-height:17.8px;color:#3c3c3c;">14.0</div>
<div class="t" style="left:1812.86px;top:829.43px;font-size:17.8px;line-height:17.8px;color:#3c3c3c;">16.0</div>
<div class="t" style="left:1944.96px;top:827.93px;font-size:17.8px;line-height:17.8px;color:#3c3c3c;">16.0</div>
<div class="t" style="left:2175.40px;top:827.93px;font-size:17.8px;line-height:17.8px;color:#3c3c3c;">$0</div>
<div class="t" style="left:2385.70px;top:827.93px;font-size:17.8px;line-height:17.8px;color:#3c3c3c;">$0</div>
<div class="t" style="left:256.50px;top:853.59px;font-size:18.2px;line-height:18.2px;color:#3c3c3c;">Project Management</div>
<div class="t" style="left:1294.56px;top:854.93px;font-size:17.8px;line-height:17.8px;color:#3c3c3c;">0.0</div>
<div class="t" style="left:1416.96px;top:854.93px;font-size:17.8px;line-height:17.8px;color:#3c3c3c;">20.0</div>
<div class="t" style="left:1548.66px;top:854.93px;font-size:17.8px;line-height:17.8px;color:#3c3c3c;">20.0</div>
<div class="t" style="left:1690.76px;top:854.93px;font-size:17.8px;line-height:17.8px;color:#3c3c3c;">0.0</div>
<div class="t" style="left:1812.86px;top:856.43px;font-size:17.8px;line-height:17.8px;color:#3c3c3c;">30.0</div>
<div class="t" style="left:1944.96px;top:854.93px;font-size:17.8px;line-height:17.8px;color:#3c3c3c;">30.0</div>
<div class="t" style="left:2175.40px;top:854.93px;font-size:17.8px;line-height:17.8px;color:#3c3c3c;">$0</div>
<div class="t" style="left:2385.70px;top:854.93px;font-size:17.8px;line-height:17.8px;color:#3c3c3c;">$0</div>
<div class="r" style="left:253px;top:876px;width:2239px;height:28px;background:#dce6f1;"></div>
<div class="t" style="left:256.50px;top:881.06px;font-size:17.3px;line-height:17.3px;color:#1e1e1e;font-weight:bold;">Total Requirements</div>
<div class="t" style="left:1549.63px;top:882.06px;font-size:17.3px;line-height:17.3px;color:#1e1e1e;font-weight:bold;">66.0</div>
<div class="t" style="left:1945.93px;top:882.06px;font-size:17.3px;line-height:17.3px;color:#1e1e1e;font-weight:bold;">85.0</div>
<div class="t" style="left:2175.96px;top:882.06px;font-size:17.3px;line-height:17.3px;color:#1e1e1e;font-weight:bold;">$0</div>
<div class="t" style="left:2386.26px;top:882.06px;font-size:17.3px;line-height:17.3px;color:#1e1e1e;font-weight:bold;">$0</div>
<div class="t" style="left:256.50px;top:938.68px;font-size:22px;line-height:22px;color:#4f81bd;font-weight:bold;">Installation</div>
<div class="r" style="left:253px;top:965px;width:558px;height:27px;background:#f2dcdb;"></div>
<div class="r" style="left:811px;top:965px;width:387px;height:28px;background:#ffffb0;box-sizing:border-box;border:1px solid #dfe5df;"></div>
<div class="r" style="left:811px;top:992px;width:387px;height:28px;background:#ffffb0;box-sizing:border-box;border:1px solid #dfe5df;"></div>
<div class="r" style="left:811px;top:1019px;width:387px;height:28px;background:#ffffb0;box-sizing:border-box;border:1px solid #dfe5df;"></div>
<div class="r" style="left:1329px;top:965px;width:133px;height:28px;background:#ffffb0;box-sizing:border-box;border:1px solid #dfe5df;"></div>
<div class="r" style="left:1725px;top:965px;width:133px;height:28px;background:#ffffb0;box-sizing:border-box;border:1px solid #dfe5df;"></div>
<div class="t" style="left:256.50px;top:969.89px;font-size:18.2px;line-height:18.2px;color:#3c3c3c;">Installation of Software</div>
<div class="t" style="left:901.82px;top:969.89px;font-size:18.2px;line-height:18.2px;color:#3c3c3c;">On Cloud - no installation</div>
<div class="t" style="left:1294.56px;top:971.23px;font-size:17.8px;line-height:17.8px;color:#3c3c3c;">0.0</div>
<div class="t" style="left:1558.56px;top:971.23px;font-size:17.8px;line-height:17.8px;color:#3c3c3c;">0.0</div>
<div class="t" style="left:1690.76px;top:971.23px;font-size:17.8px;line-height:17.8px;color:#3c3c3c;">0.0</div>
<div class="t" style="left:1954.86px;top:971.23px;font-size:17.8px;line-height:17.8px;color:#3c3c3c;">0.0</div>
<div class="t" style="left:2175.40px;top:971.23px;font-size:17.8px;line-height:17.8px;color:#3c3c3c;">$0</div>
<div class="t" style="left:2385.70px;top:971.23px;font-size:17.8px;line-height:17.8px;color:#3c3c3c;">$0</div>
<div class="t" style="left:256.50px;top:996.59px;font-size:18.2px;line-height:18.2px;color:#3c3c3c;">Is the Web Portal Part of Installation</div>
<div class="t" style="left:933.86px;top:996.59px;font-size:18.2px;line-height:18.2px;color:#3c3c3c;">Bring IT manager</div>
<div class="t" style="left:256.50px;top:1023.59px;font-size:18.2px;line-height:18.2px;color:#3c3c3c;">Enter # of Environments</div>
<div class="r" style="left:253px;top:1046px;width:2239px;height:27px;background:#dce6f1;"></div>
<div class="t" style="left:256.50px;top:1051.26px;font-size:17.3px;line-height:17.3px;color:#1e1e1e;font-weight:bold;">Total Installation</div>
<div class="t" style="left:1559.25px;top:1052.26px;font-size:17.3px;line-height:17.3px;color:#1e1e1e;font-weight:bold;">0.0</div>
<div class="t" style="left:1955.55px;top:1052.26px;font-size:17.3px;line-height:17.3px;color:#1e1e1e;font-weight:bold;">0.0</div>
<div class="t" style="left:2175.96px;top:1052.26px;font-size:17.3px;line-height:17.3px;color:#1e1e1e;font-weight:bold;">$0</div>
<div class="t" style="left:2386.26px;top:1052.26px;font-size:17.3px;line-height:17.3px;color:#1e1e1e;font-weight:bold;">$0</div>
<div class="t" style="left:256.50px;top:1108.38px;font-size:22px;line-height:22px;color:#4f81bd;font-weight:bold;">Training</div>
<div class="r" style="left:253px;top:1134px;width:558px;height:55px;background:#f2dcdb;"></div>
<div class="r" style="left:811px;top:1134px;width:387px;height:56px;background:#ffffb0;box-sizing:border-box;border:1px solid #dfe5df;"></div>
<div class="r" style="left:1329px;top:1134px;width:133px;height:56px;background:#ffffb0;box-sizing:border-box;border:1px solid #dfe5df;"></div>
<div class="r" style="left:1725px;top:1134px;width:133px;height:56px;background:#ffffb0;box-sizing:border-box;border:1px solid #dfe5df;"></div>
<div class="r" style="left:811px;top:1189px;width:387px;height:55px;background:#ffffb0;box-sizing:border-box;border:1px solid #dfe5df;"></div>
<div class="r" style="left:1329px;top:1189px;width:133px;height:55px;background:#ffffb0;box-sizing:border-box;border:1px solid #dfe5df;"></div>
<div class="r" style="left:1725px;top:1189px;width:133px;height:55px;background:#ffffb0;box-sizing:border-box;border:1px solid #dfe5df;"></div>
<div class="t" style="left:256.50px;top:1140.99px;font-size:18.2px;line-height:18.2px;color:#3c3c3c;">Software - Training for Power Users</div>
<div class="t" style="left:1294.56px;top:1142.93px;font-size:17.8px;line-height:17.8px;color:#3c3c3c;">0.0</div>
<div class="t" style="left:1416.96px;top:1142.93px;font-size:17.8px;line-height:17.8px;color:#3c3c3c;">16.0</div>
<div class="t" style="left:1548.66px;top:1142.93px;font-size:17.8px;line-height:17.8px;color:#3c3c3c;">16.0</div>
<div class="t" style="left:1680.86px;top:1142.93px;font-size:17.8px;line-height:17.8px;color:#3c3c3c;">16.0</div>
<div class="t" style="left:1812.86px;top:1142.93px;font-size:17.8px;line-height:17.8px;color:#3c3c3c;">24.0</div>
<div class="t" style="left:1944.96px;top:1142.93px;font-size:17.8px;line-height:17.8px;color:#3c3c3c;">24.0</div>
<div class="t" style="left:2175.40px;top:1142.93px;font-size:17.8px;line-height:17.8px;color:#3c3c3c;">$0</div>
<div class="t" style="left:2385.70px;top:1142.93px;font-size:17.8px;line-height:17.8px;color:#3c3c3c;">$0</div>
<div class="t" style="left:256.50px;top:1194.79px;font-size:18.2px;line-height:18.2px;color:#3c3c3c;">Software -Workshop for Power Users</div>
<div class="t" style="left:1294.56px;top:1196.43px;font-size:17.8px;line-height:17.8px;color:#3c3c3c;">0.0</div>
<div class="t" style="left:1426.86px;top:1196.43px;font-size:17.8px;line-height:17.8px;color:#3c3c3c;">8.0</div>
<div class="t" style="left:1558.56px;top:1196.43px;font-size:17.8px;line-height:17.8px;color:#3c3c3c;">8.0</div>
<div class="t" style="left:1690.76px;top:1196.43px;font-size:17.8px;line-height:17.8px;color:#3c3c3c;">8.0</div>
<div class="t" style="left:1954.86px;top:1196.43px;font-size:17.8px;line-height:17.8px;color:#3c3c3c;">8.0</div>
<div class="t" style="left:2175.40px;top:1196.43px;font-size:17.8px;line-height:17.8px;color:#3c3c3c;">$0</div>
<div class="t" style="left:2385.70px;top:1196.43px;font-size:17.8px;line-height:17.8px;color:#3c3c3c;">$0</div>
<div class="t" style="left:256.50px;top:1247.06px;font-size:18px;line-height:18px;color:#4f81bd;font-style:italic;">List the Modules Needed for Training</div>
<div class="r" style="left:811px;top:1270px;width:387px;height:28px;background:#ffffb0;box-sizing:border-box;border:1px solid #dfe5df;"></div>
<div class="t" style="left:274.70px;top:1273.59px;font-size:18.2px;line-height:18.2px;color:#3c3c3c;">Report Designer</div>
<div class="r" style="left:811px;top:1297px;width:387px;height:28px;background:#ffffb0;box-sizing:border-box;border:1px solid #dfe5df;"></div>
<div class="t" style="left:274.70px;top:1300.59px;font-size:18.2px;line-height:18.2px;color:#3c3c3c;">Composer (Ad-Hoc)</div>
<div class="r" style="left:811px;top:1324px;width:387px;height:28px;background:#ffffb0;box-sizing:border-box;border:1px solid #dfe5df;"></div>
<div class="t" style="left:274.70px;top:1327.59px;font-size:18.2px;line-height:18.2px;color:#3c3c3c;">Data Warehouse Console</div>
<div class="r" style="left:811px;top:1351px;width:387px;height:28px;background:#ffffb0;box-sizing:border-box;border:1px solid #dfe5df;"></div>
<div class="t" style="left:274.70px;top:1354.59px;font-size:18.2px;line-height:18.2px;color:#3c3c3c;">Budgeting</div>
<div class="r" style="left:253px;top:476px;width:1px;height:888px;background:#cdcdcd;"></div>
</div></div>
</div></div>
</body></html>
